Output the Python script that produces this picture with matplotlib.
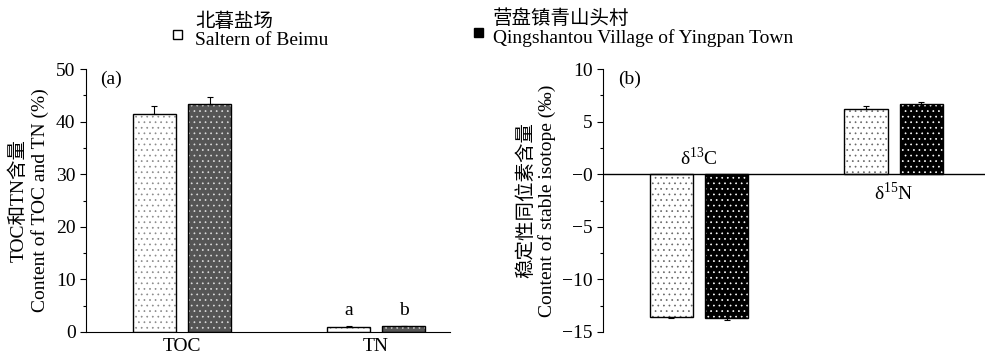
import numpy as np
import matplotlib
matplotlib.use('Agg')
import matplotlib.pyplot as plt
from matplotlib.patches import Rectangle

plt.rcParams['font.family'] = ['Liberation Serif', 'Noto Sans CJK SC']
plt.rcParams['font.size'] = 14
plt.rcParams['axes.unicode_minus'] = True
plt.rcParams['mathtext.fontset'] = 'custom'
plt.rcParams['mathtext.rm'] = 'Liberation Serif'
plt.rcParams['hatch.linewidth'] = 0.5

# dados
series = ['北暮盐场\nSaltern of Beimu', '营盘镇青山头村\nQingshantou Village of Yingpan Town']
cat_a = ['TOC', 'TN']
val_a = [[41.4, 0.95], [43.3, 1.05]]
err_a = [[1.6, 0.1], [1.4, 0.1]]
letras_a = ['a', 'b']

cat_b = ['δ$^{\\mathrm{13}}$C', 'δ$^{\\mathrm{15}}$N']
val_b = [[-13.55, 6.2], [-13.7, 6.72]]
err_b = [[0.15, 0.25], [0.12, 0.15]]
ticks_b = [10, 5, 0, -5, -10, -15]
ticklabels_b = ['10', '5', '−0', '−5', '−10', '−15']

W = 985 / 100
H = 358 / 100
fig = plt.figure(figsize=(W, H), dpi=100)

ax1 = fig.add_axes([86/985, 1-332/358, 364/985, 263/358])
ax2 = fig.add_axes([603/985, 1-332/358, 382/985, 263/358])

larg = 0.222
off = 0.142
face_a = ['white', '#555555']
face_b = ['white', 'black']


def barras(ax, vals, errs, faces, dots):
    x = np.arange(len(vals[0]))
    for s in range(2):
        pos = x + (2*s - 1) * off
        v = np.array(vals[s])
        e = np.array(errs[s])
        # fundo + pontos
        ax.bar(pos, v, larg, color=faces[s], edgecolor=dots[s], hatch='...',
               linewidth=0, zorder=2)
        # contorno
        ax.bar(pos, v, larg, fill=False, edgecolor='black', linewidth=1.0, zorder=3)
        lo = np.where(v < 0, e, 0)
        hi = np.where(v > 0, e, 0)
        ax.errorbar(pos, v, yerr=[lo, hi], fmt='none', ecolor='black',
                    elinewidth=0.8, capsize=2.5, capthick=0.8, zorder=4)
    return x


# (a)
x = barras(ax1, val_a, err_a, face_a, ['#8a8a8a', '#dddddd'])
ax1.set_xlim(-0.495, 1.381)
ax1.set_ylim(0, 50)
ax1.set_yticks(np.arange(0, 51, 10))
ax1.set_yticks(np.arange(0, 51, 5), minor=True)
ax1.set_xticks(x)
ax1.set_xticklabels(cat_a)
ax1.tick_params(axis='x', length=0, pad=4)
ax1.tick_params(axis='y', which='major', length=4, width=0.8, direction='out')
ax1.tick_params(axis='y', which='minor', length=2.5, width=0.8, direction='out')
for s in ['top', 'right']:
    ax1.spines[s].set_visible(False)
ax1.set_ylabel('TOC和TN含量\nContent of TOC and TN (%)', labelpad=5, linespacing=1.25)
ax1.text(0.04, 0.995, '(a)', transform=ax1.transAxes, va='top')
for s in range(2):
    ax1.text(1 + (2*s - 1) * off, val_a[s][1] + 1.5, letras_a[s], ha='center', va='bottom')

# (b)
x = barras(ax2, val_b, err_b, face_b, ['#666666', '#ffffff'])
ax2.set_xlim(-0.494, 1.47)
ax2.set_ylim(-15, 10)
ax2.set_yticks(ticks_b)
ax2.set_yticklabels(ticklabels_b)
ax2.set_yticks(np.arange(-15, 11, 2.5), minor=True)
ax2.tick_params(axis='y', which='major', length=4, width=0.8, direction='out')
ax2.tick_params(axis='y', which='minor', length=2.5, width=0.8, direction='out')
ax2.set_xticks([])
for s in ['top', 'right', 'bottom']:
    ax2.spines[s].set_visible(False)
ax2.axhline(0, color='black', linewidth=1.0, zorder=5)
ax2.set_ylabel('稳定性同位素含量\nContent of stable isotope (‰)', labelpad=4, linespacing=1.25)
ax2.text(0.04, 0.995, '(b)', transform=ax2.transAxes, va='top')
ax2.text(x[0], 0.45, cat_b[0], ha='center', va='bottom')
ax2.text(x[1], -0.7, cat_b[1], ha='center', va='top')

# legenda
leg_pos = [(173, 30, 195, 31), (474, 28, 493, 28)]
for s in range(2):
    mx, my, tx, ty = leg_pos[s]
    fig.patches.append(Rectangle((mx/985, 1-(my+9)/358), 9/985, 9/358,
                                 transform=fig.transFigure, facecolor=face_b[s],
                                 edgecolor='black', linewidth=1.0))
    fig.text(tx/985, 1-ty/358, series[s], va='center', ha='left', linespacing=1.1)

fig.savefig('out.png', dpi=100)
